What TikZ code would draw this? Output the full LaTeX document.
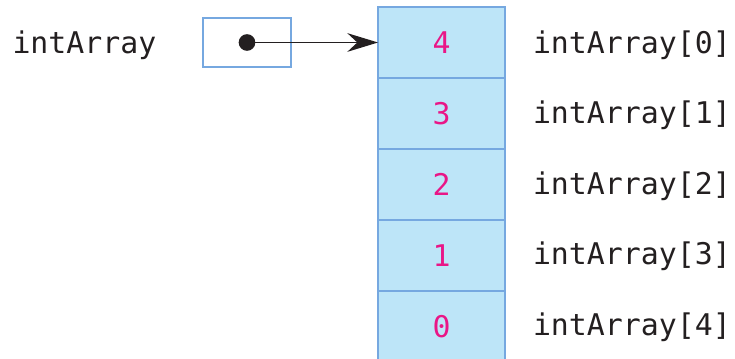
\documentclass[tikz,border=0pt]{standalone}
\usepackage{fontspec}
\setmonofont{DejaVu Sans Mono}
\usetikzlibrary{arrows.meta}
\definecolor{cellfill}{RGB}{189,229,248}
\definecolor{cellline}{RGB}{118,168,224}
\definecolor{numpink}{RGB}{233,22,135}
\definecolor{txt}{RGB}{35,31,32}
\begin{document}
\begin{tikzpicture}[x=0.75pt,y=-0.75pt,
  cell/.style={draw=cellline, fill=cellfill, line width=1.5pt,
    minimum width=95.25pt, minimum height=53.25pt, inner sep=0pt, outer sep=0pt,
    text=numpink, font=\ttfamily\fontsize{22.4}{24}\selectfont},
  lbl/.style={text=txt, font=\ttfamily\fontsize{22.4}{24}\selectfont,
    anchor=base west, inner sep=0pt, outer sep=0pt},
  ptrbox/.style={draw=cellline, line width=1.5pt, minimum width=66pt,
    minimum height=36.75pt, inner sep=0pt, outer sep=0pt},
  ptrdot/.style={circle, fill=txt, minimum size=12.5pt, inner sep=0pt, outer sep=0pt},
  ptrarrow/.style={draw=txt, line width=1pt,
    -{Stealth[length=23pt, width=14pt, inset=7.5pt]}}]
\useasboundingbox (0,0) rectangle (735,359);
\clip (0,0) rectangle (735,359);
\node[cell] (c0) at (441.5,42.5) {4};
\node[cell] (c1) at (441.5,113.5) {3};
\node[cell] (c2) at (441.5,184.5) {2};
\node[cell] (c3) at (441.5,255.5) {1};
\node[cell] (c4) at (441.5,326.5) {0};
\node[lbl] (l0) at (533,53.5) {intArray[0]};
\node[lbl] (l1) at (533,124) {intArray[1]};
\node[lbl] (l2) at (533,194.5) {intArray[2]};
\node[lbl] (l3) at (533,265) {intArray[3]};
\node[lbl] (l4) at (533,335.5) {intArray[4]};
\node[lbl] (name) at (12.5,53.5) {intArray};
\node[ptrbox] (p) at (247,42.5) {};
\node[ptrdot] (d) at (247,42.5) {};
\draw[ptrarrow] (d.center) -- (c0.west);
\end{tikzpicture}
\end{document}
